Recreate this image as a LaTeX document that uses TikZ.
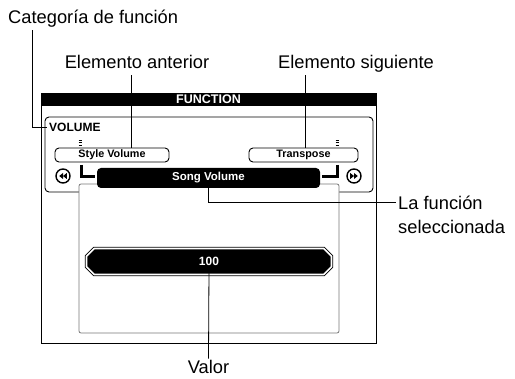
\documentclass[tikz,border=0pt]{standalone}
\usepackage{fontspec}
\setmainfont{Liberation Sans}
\definecolor{panelGray}{RGB}{120,120,120}
\usetikzlibrary{shapes.misc, positioning, calc}

\begin{document}
\begin{tikzpicture}[x=1pt, y=-1pt,
    callout/.style={font=\fontsize{18.3}{24}\selectfont, inner sep=2pt, text depth=4pt},
    leader/.style={line width=0.8pt},
    itembox/.style={draw, line width=0.9pt, rounded corners=4pt, minimum height=14pt,
        inner sep=0pt, font=\fontsize{10.8}{12}\selectfont\bfseries},
    lcdbar/.style={fill=black, text=white, inner sep=0pt, font=\fontsize{11.5}{13}\selectfont\bfseries}]
    \useasboundingbox (0,0) rectangle (515,379);

    % Screen frame and panels
    \draw[line width=0.9pt] (41,93) rectangle (376,343);
    \node[lcdbar, minimum width=335pt, minimum height=13pt, font=\fontsize{12.5}{13}\selectfont\bfseries]
        (head) at (208.5,99.5) {FUNCTION};
    \draw[line width=0.9pt, rounded corners=4pt] (45,117) rectangle (373,192);
    \draw[panelGray, line width=0.8pt, fill=white, rounded corners=2pt] (79,184) rectangle (339,333);

    % Category and neighbouring items
    \node[anchor=west, inner sep=2pt, font=\fontsize{12}{14}\selectfont\bfseries] (vol) at (47,127) {VOLUME};
    \node[itembox, minimum width=114pt] (style) at (112,155) {Style Volume};
    \node[itembox, minimum width=109pt] (trans) at (303.5,155) {Transpose};
    \foreach \xm in {80, 337} {
        \foreach \ym in {140, 142.5, 145}
            \draw[line width=0.8pt] (\xm-1.5,\ym) -- (\xm+1.5,\ym);
    }

    % Brackets and selected function
    \draw[line width=3pt] (81,165) -- (81,176.5) -- (95,176.5);
    \draw[line width=3pt] (337,165) -- (337,176.5) -- (322,176.5);
    \node[lcdbar, minimum width=223pt, minimum height=20pt, rounded corners=4pt] (song) at (208.5,178) {Song Volume};

    % Scroll buttons
    \foreach \cx/\dir in {63/-1, 354/1} {
        \draw[line width=1.4pt] (\cx,176) circle (7pt);
        \fill ({\cx-(\dir)*3.8},173) -- (\cx,176) -- ({\cx-(\dir)*3.8},179) -- cycle;
        \fill (\cx,173) -- ({\cx+(\dir)*3.8},176) -- (\cx,179) -- cycle;
    }

    % Value
    \node[chamfered rectangle, chamfered rectangle xsep=5pt, draw=black, double=white,
        double distance=1.6pt, line width=0.9pt, fill=black, text=white,
        minimum width=245pt, minimum height=26pt, inner sep=0pt,
        font=\fontsize{12}{14}\selectfont\bfseries] (val) at (209,261.5) {100};

    % Callouts
    \node[callout, anchor=base west] (cat) at (6,24) {Categoría de función};
    \node[callout, anchor=base] (ant) at (137,69) {Elemento anterior};
    \node[callout, anchor=base] (sig) at (356,69) {Elemento siguiente};
    \node[callout, anchor=north west, align=left] (sel) at (396,193.5) {La función\\seleccionada};
    \node[callout, anchor=base] (valor) at (208.5,374) {Valor};

    \draw[leader] ([xshift=26pt]cat.south west) |- (vol.west);
    \coordinate (antTip) at ([xshift=19pt]style.north);
    \draw[leader] (antTip) -- (antTip |- ant.south);
    \coordinate (sigTip) at ([xshift=1.5pt]trans.north);
    \draw[leader] (sigTip) -- (sigTip |- sig.south);
    \draw[leader] (song.south) |- ([yshift=-8.5pt]sel.north west);
    \draw[leader] ([yshift=-7pt]val.center) -- (valor.north);
\end{tikzpicture}
\end{document}
